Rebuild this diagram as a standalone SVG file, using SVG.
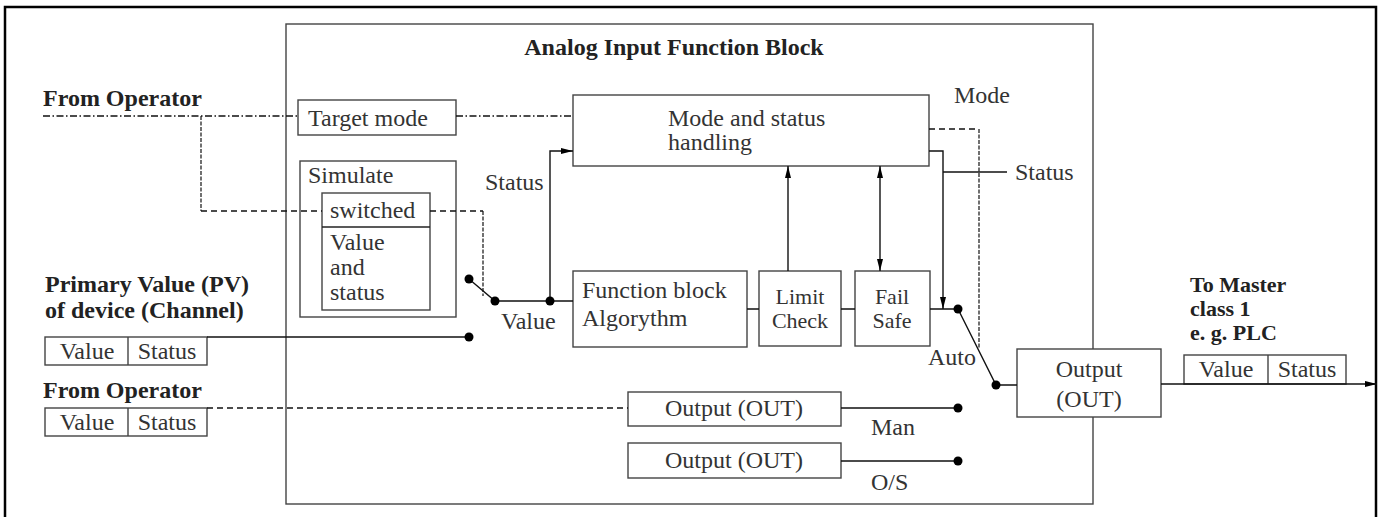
<svg xmlns="http://www.w3.org/2000/svg" width="1382" height="517" viewBox="0 0 1382 517">
<style>
.box{fill:#fff;stroke:#444;stroke-width:1.4}
.t{font-family:"Liberation Serif",serif;font-size:24px;fill:#333}
.b{font-family:"Liberation Serif",serif;font-size:24px;font-weight:bold;fill:#222}
.s{font-size:22px}
.c{text-anchor:middle}
.ln{fill:none;stroke:#111;stroke-width:1.4}
.dd{fill:none;stroke:#111;stroke-width:1.4;stroke-dasharray:7 2.5 1.5 2.5}
.da{fill:none;stroke:#111;stroke-width:1.4;stroke-dasharray:6 4}
.dv{fill:none;stroke:#111;stroke-width:1.2;stroke-dasharray:4 1.5}
.dot{fill:#000}
</style>
<defs>
<marker id="ah" markerWidth="12" markerHeight="6" refX="12" refY="3" orient="auto-start-reverse" markerUnits="userSpaceOnUse">
<path d="M0,0 L12,3 L0,6 z" fill="#000"/>
</marker>
</defs>
<rect x="0" y="0" width="1382" height="517" fill="#fff"/>
<g id="frame">
<rect x="5" y="7" width="1371" height="514" fill="none" stroke="#000" stroke-width="2.5"/>
</g>
<g id="function-block">
<rect x="286" y="24" width="807" height="480" fill="none" stroke="#444" stroke-width="1.4"/>
<text class="b c" x="674" y="55" font-size="25">Analog Input Function Block</text>
</g>
<g id="labels-left">
<text class="b" x="43" y="106">From Operator</text>
<text class="b" x="45" y="292">Primary Value (PV)</text>
<text class="b" x="45" y="318">of device (Channel)</text>
<text class="b" x="43" y="398">From Operator</text>
</g>
<g id="pv-box">
<rect class="box" x="45" y="337" width="162" height="28"/>
<line x1="128" y1="337" x2="128" y2="365" stroke="#444" stroke-width="1.4"/>
<text class="t c" x="87" y="359">Value</text>
<text class="t c" x="167" y="359">Status</text>
</g>
<g id="op-box">
<rect class="box" x="45" y="408" width="162" height="28"/>
<line x1="128" y1="408" x2="128" y2="436" stroke="#444" stroke-width="1.4"/>
<text class="t c" x="87" y="430">Value</text>
<text class="t c" x="167" y="430">Status</text>
</g>
<g id="target-mode">
<rect class="box" x="298" y="100" width="158" height="35"/>
<text class="t" x="308" y="126">Target mode</text>
</g>
<g id="simulate">
<rect class="box" x="300" y="161" width="156" height="156"/>
<text class="t" x="308" y="183">Simulate</text>
<rect class="box" x="322" y="193" width="108" height="117"/>
<line x1="322" y1="227" x2="430" y2="227" stroke="#222" stroke-width="1.4"/>
<text class="t" x="330" y="218">switched</text>
<text class="t" x="330" y="250">Value</text>
<text class="t" x="330" y="275">and</text>
<text class="t" x="330" y="300">status</text>
</g>
<g id="mode-status">
<rect class="box" x="573" y="95" width="356" height="71"/>
<text class="t" x="668" y="126">Mode and status</text>
<text class="t" x="668" y="150">handling</text>
</g>
<g id="fb-algorithm">
<rect class="box" x="573" y="271" width="174" height="76"/>
<text class="t" x="582" y="298">Function block</text>
<text class="t" x="582" y="326">Algorythm</text>
</g>
<g id="limit-check">
<rect class="box" x="759" y="271" width="82" height="75"/>
<text class="t c s" x="800" y="304">Limit</text>
<text class="t c s" x="800" y="328">Check</text>
</g>
<g id="fail-safe">
<rect class="box" x="855" y="271" width="75" height="75"/>
<text class="t c s" x="892" y="304">Fail</text>
<text class="t c s" x="892" y="328">Safe</text>
</g>
<g id="out-man">
<rect class="box" x="628" y="392" width="213" height="34"/>
<text class="t c" x="734" y="416">Output (OUT)</text>
</g>
<g id="out-os">
<rect class="box" x="628" y="443" width="213" height="35"/>
<text class="t c" x="734" y="468">Output (OUT)</text>
</g>
<g id="output">
<rect class="box" x="1017" y="349" width="144" height="68"/>
<text class="t c" x="1089" y="377">Output</text>
<text class="t c" x="1089" y="407">(OUT)</text>
</g>
<g id="master">
<text class="b s" x="1190" y="292">To Master</text>
<text class="b s" x="1190" y="316">class 1</text>
<text class="b s" x="1190" y="340">e. g. PLC</text>
<rect class="box" x="1184" y="355" width="162" height="29"/>
<line x1="1268" y1="355" x2="1268" y2="384" stroke="#444" stroke-width="1.4"/>
<text class="t c" x="1226" y="377">Value</text>
<text class="t c" x="1307" y="377">Status</text>
</g>
<g id="labels-inner">
<text class="t" x="485" y="190">Status</text>
<text class="t" x="501" y="329">Value</text>
<text class="t" x="954" y="103">Mode</text>
<text class="t" x="1015" y="180">Status</text>
<text class="t" x="928" y="365">Auto</text>
<text class="t" x="871" y="435">Man</text>
<text class="t" x="871" y="490">O/S</text>
</g>
<g id="connectors">
<path class="dd" d="M43,116 H298 M456,116 H573"/>
<path class="dv" d="M201,116 V211"/>
<path class="da" d="M201,211 H322 M430,211 H483"/>
<path class="dv" d="M483,211 V296"/>
<path class="ln" d="M469,279 L495,301 H573"/>
<path class="ln" d="M207,337 H469"/>
<path class="ln" d="M550,301 V151 H573" marker-end="url(#ah)"/>
<path class="ln" d="M747,309 H759 M841,309 H855 M930,309 H958"/>
<path class="ln" d="M788,271 V166" marker-end="url(#ah)"/>
<path class="ln" d="M880,166 V271" marker-start="url(#ah)" marker-end="url(#ah)"/>
<path class="ln" d="M929,151 H943 V309" marker-end="url(#ah)"/>
<path class="ln" d="M943,172 H1007"/>
<path class="da" d="M929,129 H979"/>
<path class="dv" d="M979,129 V348"/>
<path class="ln" d="M958,309 L996,385 H1017"/>
<path class="ln" d="M1161,384 H1377" marker-end="url(#ah)"/>
<path class="da" d="M207,408 H628"/>
<path class="ln" d="M841,408 H958 M841,461 H958"/>
<circle class="dot" cx="469" cy="279" r="4.5"/>
<circle class="dot" cx="495" cy="301" r="4.5"/>
<circle class="dot" cx="550" cy="301" r="4.5"/>
<circle class="dot" cx="469" cy="337" r="4.5"/>
<circle class="dot" cx="958" cy="309" r="4.5"/>
<circle class="dot" cx="996" cy="385" r="4.5"/>
<circle class="dot" cx="958" cy="408" r="4.5"/>
<circle class="dot" cx="958" cy="461" r="4.5"/>
</g>
</svg>
